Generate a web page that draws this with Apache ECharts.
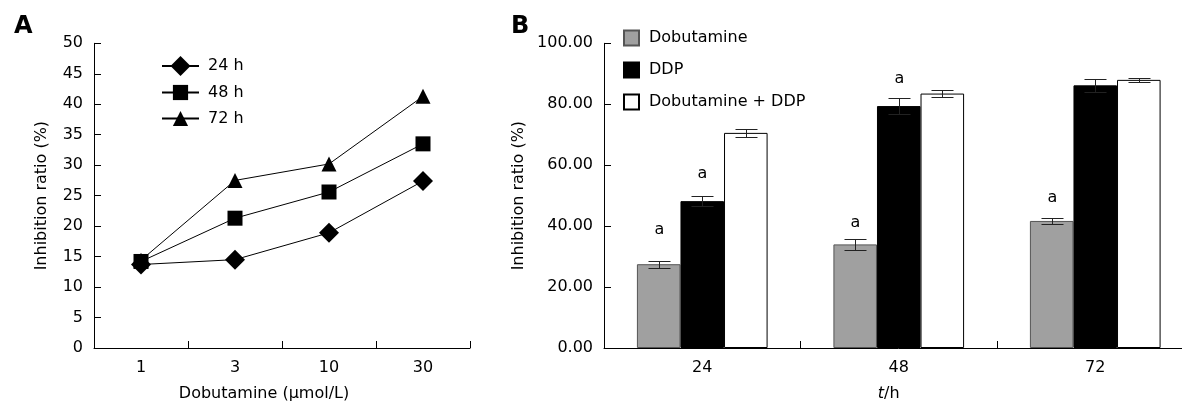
<!DOCTYPE html>
<html><head><meta charset="utf-8">
<script src="https://cdn.jsdelivr.net/npm/echarts@6/dist/echarts.min.js"></script>
<style>html,body{margin:0;padding:0;background:#fff;overflow:hidden;width:1182px;height:407px}#c{width:1200px;height:407px}</style>
</head><body><div id="c"></div>
<script>
// Panel A data
const doseCategories = ['1', '3', '10', '30'];
const inhib24h = [13.7, 14.5, 18.9, 27.4];
const inhib48h = [14.2, 21.3, 25.6, 33.5];
const inhib72h = [14.4, 27.5, 30.2, 41.3];
const yTicksA = [0, 5, 10, 15, 20, 25, 30, 35, 40, 45, 50];
// Panel B data
const timeCategories = ['24', '48', '72'];
const dobutamine = [27.5, 34.0, 41.7];
const dobutamineErr = [1.1, 1.9, 1.0];
const ddp = [48.2, 79.4, 86.2];
const ddpErr = [1.6, 2.5, 2.2];
const combo = [70.6, 83.5, 88.0];
const comboErr = [1.2, 1.1, 0.7];
// value level at which the significance mark "a" sits
const dobutamineSig = [38.7, 41.2, 49.3];
const ddpSig = [57.2, 88.4, null];

const FONT = 'DejaVu Sans';
const BAR_GAP = 0.335;
const chart = echarts.init(document.getElementById('c'), null, {renderer: 'canvas'});

const errData = [];
[[dobutamine, dobutamineErr, dobutamineSig], [ddp, ddpErr, ddpSig], [combo, comboErr, null]].forEach((s, si) => {
  s[0].forEach((v, ci) => {
    const sig = s[2] ? s[2][ci] : null;
    errData.push([ci, v, s[1][ci], si, sig == null ? '-' : sig]);
  });
});

function errRender(params, api) {
  const ci = api.value(0), v = api.value(1), e = api.value(2), si = api.value(3), sig = api.value(4);
  const band = api.size([1, 0])[0];
  const bw = band * (1 - BAR_GAP) / 3;
  const c = api.coord([ci, v]);
  const x = Math.round(c[0] + (si - 1) * bw) + 0.5;
  const yTop = Math.round(api.coord([ci, v + e])[1]) + 0.5;
  const yBot = Math.round(api.coord([ci, v - e])[1]) + 0.5;
  const cap = 11;
  const st = {stroke: '#222', lineWidth: 1};
  const children = [
    {type: 'line', shape: {x1: x, y1: yTop, x2: x, y2: yBot}, style: st},
    {type: 'line', shape: {x1: x - cap, y1: yTop, x2: x + cap, y2: yTop}, style: st},
    {type: 'line', shape: {x1: x - cap, y1: yBot, x2: x + cap, y2: yBot}, style: st}
  ];
  if (!isNaN(sig)) {
    children.push({type: 'text', x: x, y: api.coord([ci, sig])[1],
      style: {text: 'a', font: '16px "' + FONT + '"', fill: '#000', align: 'center', verticalAlign: 'middle'}});
  }
  return {type: 'group', children: children};
}

const axisCommon = {
  axisLine: {show: true, lineStyle: {color: '#000', width: 1}},
  axisTick: {show: true, inside: true, length: 7, lineStyle: {color: '#000'}},
  splitLine: {show: false},
  axisLabel: {color: '#000', fontFamily: FONT, fontSize: 16},
  nameTextStyle: {color: '#000', fontFamily: FONT, fontSize: 16}
};

const legendBase = {
  orient: 'vertical', itemWidth: 37,
  textStyle: {color: '#000', fontFamily: FONT, fontSize: 16, padding: [0, 0, 0, 4]}
};

const option = {
  animation: false,
  backgroundColor: '#fff',
  graphic: [
    {type: 'text', left: 14, top: 15, style: {text: 'A', font: 'bold 24px "' + FONT + '"', fill: '#000'}},
    {type: 'text', left: 511, top: 15, style: {text: 'B', font: 'bold 24px "' + FONT + '"', fill: '#000'}}
  ],
  legend: [
    Object.assign({}, legendBase, {left: 156, top: 51, itemHeight: 25, data: ['24 h']}),
    Object.assign({}, legendBase, {left: 156, top: 79.5, itemHeight: 19, data: ['48 h']}),
    Object.assign({}, legendBase, {left: 156, top: 105.5, itemHeight: 19, data: ['72 h']}),
    {orient: 'vertical', left: 618, top: 24.5, itemWidth: 15, itemHeight: 15, itemGap: 15, icon: 'rect',
     textStyle: {color: '#000', fontFamily: FONT, fontSize: 16, padding: [0, 0, 0, 5]},
     data: ['Dobutamine', 'DDP', 'Dobutamine + DDP']}
  ],
  grid: [
    {left: 94, top: 43.3, width: 376, height: 307.4},
    {left: 604, top: 43.3, width: 589.5, height: 307.4}
  ],
  xAxis: [
    Object.assign({}, axisCommon, {
      type: 'category', gridIndex: 0, data: doseCategories, boundaryGap: true,
      name: 'Dobutamine (\u03bcmol/L)', nameLocation: 'middle', nameGap: 38,
      nameTextStyle: Object.assign({}, axisCommon.nameTextStyle, {padding: [0, 36, 0, 0]}),
      axisLabel: Object.assign({}, axisCommon.axisLabel, {margin: 12})
    }),
    Object.assign({}, axisCommon, {
      type: 'category', gridIndex: 1, data: timeCategories, boundaryGap: true,
      name: '{i|t}/h', nameLocation: 'middle', nameGap: 38,
      nameTextStyle: Object.assign({}, axisCommon.nameTextStyle, {padding: [0, 20, 0, 0],
        rich: {i: {fontStyle: 'italic', fontFamily: FONT, fontSize: 16, color: '#000'}}}),
      axisLabel: Object.assign({}, axisCommon.axisLabel, {margin: 12})
    })
  ],
  yAxis: [
    Object.assign({}, axisCommon, {
      type: 'value', gridIndex: 0, min: 0, max: 50, interval: 5,
      name: 'Inhibition ratio (%)', nameLocation: 'middle', nameGap: 44,
      axisLabel: Object.assign({}, axisCommon.axisLabel, {margin: 11,
        formatter: v => yTicksA.indexOf(v) >= 0 ? String(v) : ''})
    }),
    Object.assign({}, axisCommon, {
      type: 'value', gridIndex: 1, min: 0, max: 100, interval: 20,
      name: 'Inhibition ratio (%)', nameLocation: 'middle', nameGap: 77,
      axisLabel: Object.assign({}, axisCommon.axisLabel, {margin: 11, formatter: v => v.toFixed(2)})
    })
  ],
  series: [
    {name: '72 h', type: 'line', xAxisIndex: 0, yAxisIndex: 0, data: inhib72h,
     symbol: 'triangle', symbolSize: 15, itemStyle: {color: '#000'}, lineStyle: {color: '#000', width: 1}},
    {name: '48 h', type: 'line', xAxisIndex: 0, yAxisIndex: 0, data: inhib48h,
     symbol: 'rect', symbolSize: 15, itemStyle: {color: '#000'}, lineStyle: {color: '#000', width: 1}},
    {name: '24 h', type: 'line', xAxisIndex: 0, yAxisIndex: 0, data: inhib24h,
     symbol: 'diamond', symbolSize: 20, itemStyle: {color: '#000'}, lineStyle: {color: '#000', width: 1}},
    {name: 'Dobutamine', type: 'bar', xAxisIndex: 1, yAxisIndex: 1, data: dobutamine,
     barCategoryGap: (BAR_GAP * 100) + '%', barGap: '0%',
     itemStyle: {color: '#a0a0a0', borderColor: '#555', borderWidth: 1}},
    {name: 'DDP', type: 'bar', xAxisIndex: 1, yAxisIndex: 1, data: ddp,
     barCategoryGap: (BAR_GAP * 100) + '%', barGap: '0%',
     itemStyle: {color: '#000', borderColor: '#000', borderWidth: 1}},
    {name: 'Dobutamine + DDP', type: 'bar', xAxisIndex: 1, yAxisIndex: 1, data: combo,
     barCategoryGap: (BAR_GAP * 100) + '%', barGap: '0%',
     itemStyle: {color: '#fff', borderColor: '#000', borderWidth: 1}},
    {type: 'custom', xAxisIndex: 1, yAxisIndex: 1, data: errData, renderItem: errRender, z: 5,
     encode: {x: 0, y: 1}}
  ]
};
chart.setOption(option);
</script></body></html>
